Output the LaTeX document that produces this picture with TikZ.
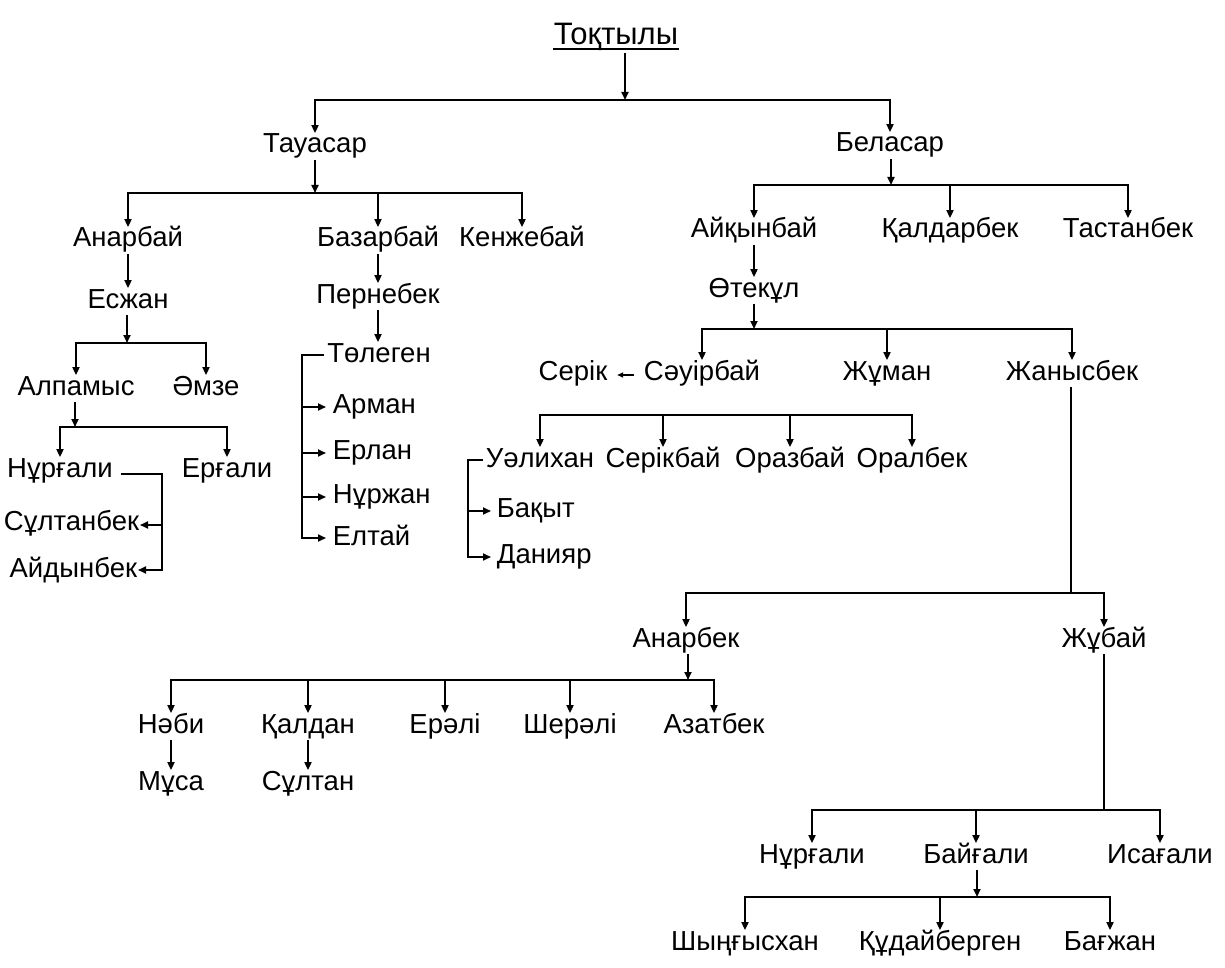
\documentclass[tikz,border=0pt]{standalone}
\usepackage{fontspec}
\setmainfont{Liberation Sans}
\usetikzlibrary{arrows.meta}

\tikzset{
    person/.style={inner sep=0pt, text height=19pt, text depth=6pt,
        anchor=base, font=\fontsize{27.5}{30}\selectfont},
    arr/.style={-{Triangle[length=8pt,width=7pt]}},
    arrs/.style={{Triangle[length=8pt,width=7pt]}-{Triangle[length=8pt,width=7pt]}}
}

\begin{document}
\begin{tikzpicture}[x=1pt, y=-1pt, line width=1.8pt]
        \useasboundingbox (0,0) rectangle (1225,968);

        \node[person, font=\fontsize{31}{34}\selectfont,
            text height=22pt, text depth=7pt]
        (tok) at (616,45) {Тоқтылы};
        \draw[line width=1.5pt] ([yshift=-4pt]tok.base west) -- ([yshift=-4pt]tok.base east);

        \node[person] (tau) at (315,153) {Тауасар};
        \node[person] (bel) at (890,152) {Беласар};

        \coordinate (tokB) at (625,100);
        \draw[arr] (tok.south -| tokB) -- (tokB);
        \draw[arrs] (tau.north) -- (tau |- tokB) -- (bel |- tokB) -- (bel.north);

        \node[person] (anarbai) at (128,247) {Анарбай};
        \node[person] (bazar) at (378,247) {Базарбай};
        \node[person] (kenzh) at (522,247) {Кенжебай};

        \coordinate (tauB) at (315,193);
        \draw[arr] (tau.south) -- (tau |- tauB);
        \draw[arrs] (anarbai.north) -- (anarbai |- tauB) -- (kenzh |- tauB) -- (kenzh.north);
        \draw[arr] (bazar |- tauB) -- (bazar.north);

        \node[person] (aikyn) at (754,238) {Айқынбай};
        \node[person] (kaldar) at (950,238) {Қалдарбек};
        \node[person] (tastan) at (1128,238) {Тастанбек};

        \coordinate (belB) at (891,185);
        \draw[arr] (bel.south -| belB) -- (belB);
        \draw[arrs] (aikyn.north) -- (aikyn |- belB) -- (tastan |- belB) -- (tastan.north);
        \draw[arr] (kaldar |- belB) -- (kaldar.north);

        \node[person] (eszhan) at (128,308) {Есжан};
        \node[person] (perne) at (378,303) {Пернебек};
        \node[person] (otek) at (754,297) {Өтекұл};
        \draw[arr] (anarbai.south) -- (eszhan.north);
        \draw[arr] (bazar.south) -- (perne.north);
        \draw[arr] (aikyn.south) -- (otek.north);

        % Есжан
        \node[person] (alpa) at (76,395) {Алпамыс};
        \node[person] (amze) at (206,395) {Әмзе};
        \coordinate (eszB) at (127,343);
        \draw[arr] (eszhan.south -| eszB) -- (eszB);
        \draw[arrs] (alpa.north) -- (alpa |- eszB) -- (amze |- eszB) -- (amze.north);

        \node[person] (nurg) at (60,477) {Нұрғали};
        \node[person] (erg) at (227,477) {Ерғали};
        \coordinate (alpB) at (75,427);
        \draw[arr] (alpa.south -| alpB) -- (alpB);
        \draw[arrs] (nurg.north) -- (nurg |- alpB) -- (erg |- alpB) -- (erg.north);

        \node[person, anchor=base east] (sult) at (140,530) {Сұлтанбек};
        \node[person, anchor=base east] (aidyn) at (138,577) {Айдынбек};
        \draw[arr] ([xshift=7pt,yshift=3pt]nurg.base east)
            -| ([xshift=24pt,yshift=7pt]aidyn.base east)
            -- ([yshift=7pt]aidyn.base east);
        \draw[arr] ([xshift=22pt,yshift=5pt]sult.base east) -- ([yshift=5pt]sult.base east);

        % Пернебек
        \node[person] (tole) at (379,362) {Төлеген};
        \draw[arr] (perne.south) -- (tole.north -| perne);
        \node[person, anchor=base west] (arman) at (332,413) {Арман};
        \node[person, anchor=base west] (erlan) at (332,459) {Ерлан};
        \node[person, anchor=base west] (nurzh) at (332,503) {Нұржан};
        \node[person, anchor=base west] (eltai) at (332,545) {Елтай};
        \draw[arr] ([xshift=-2pt,yshift=7pt]tole.base west)
            -| ([xshift=-30pt,yshift=7pt]eltai.base west)
            -- ([xshift=-6pt,yshift=7pt]eltai.base west);
        \foreach \c in {arman,erlan,nurzh}
            \draw[arr] ([xshift=-30pt,yshift=6pt]\c.base west) -- ([xshift=-6pt,yshift=6pt]\c.base west);

        % Өтекұл
        \node[person] (sauir) at (702,380) {Сәуірбай};
        \node[person] (zhuman) at (887,380) {Жұман};
        \node[person] (zhanys) at (1072,380) {Жанысбек};
        \node[person] (serik) at (573,380) {Серік};
        \coordinate (otekB) at (754,329);
        \draw[arr] (otek.south -| otekB) -- (otekB);
        \draw[arrs] (sauir.north) -- (sauir |- otekB) -- (zhanys |- otekB) -- (zhanys.north);
        \draw[arr] (zhuman |- otekB) -- (zhuman.north);
        \draw[-{Triangle[length=6pt,width=5pt]}, line width=1.4pt]
            ([xshift=-9pt,yshift=5pt]sauir.base west) -- ([xshift=9pt,yshift=5pt]serik.base east);

        % Сәуірбай
        \node[person] (uali) at (540,467) {Уәлихан};
        \node[person] (serikb) at (663,467) {Серікбай};
        \node[person] (oraz) at (790,467) {Оразбай};
        \node[person] (oral) at (912,467) {Оралбек};
        \coordinate (sauB) at (702,415);
        \draw[arrs] (uali.north) -- (uali |- sauB) -- (oral |- sauB) -- (oral.north);
        \foreach \c in {serikb,oraz}
            \draw[arr] (\c |- sauB) -- (\c.north);

        \node[person, anchor=base west] (bakyt) at (496,517) {Бақыт};
        \node[person, anchor=base west] (daniyar) at (496,563) {Данияр};
        \draw[arr] ([xshift=-2pt,yshift=7pt]uali.base west)
            -| ([xshift=-28pt,yshift=6pt]daniyar.base west)
            -- ([xshift=-5pt,yshift=6pt]daniyar.base west);
        \draw[arr] ([xshift=-28pt,yshift=6pt]bakyt.base west) -- ([xshift=-5pt,yshift=6pt]bakyt.base west);

        % Жанысбек
        \node[person] (anarbek) at (686,647) {Анарбек};
        \node[person] (zhubai) at (1104,647) {Жұбай};
        \coordinate (zhB) at (1071,593);
        \draw (zhanys.south -| zhB) -- (zhB);
        \draw[arrs] (anarbek.north) -- (anarbek |- zhB) -- (zhubai |- zhB) -- (zhubai.north);

        % Анарбек
        \node[person] (nabi) at (171,733) {Нәби};
        \node[person] (kaldan) at (308,733) {Қалдан};
        \node[person] (erali) at (445,733) {Ерәлі};
        \node[person] (sherali) at (570,733) {Шерәлі};
        \node[person] (azat) at (714,733) {Азатбек};
        \coordinate (anB) at (688,680);
        \draw[arr] (anarbek.south -| anB) -- (anB);
        \draw[arrs] (nabi.north) -- (nabi |- anB) -- (azat |- anB) -- (azat.north);
        \foreach \c in {kaldan,erali,sherali}
            \draw[arr] (\c |- anB) -- (\c.north);

        \node[person] (musa) at (171,790) {Мұса};
        \node[person] (sultan) at (308,790) {Сұлтан};
        \draw[arr] (nabi.south) -- (musa.north);
        \draw[arr] (kaldan.south) -- (sultan.north);

        % Жұбай
        \node[person] (nurg2) at (812,863) {Нұрғали};
        \node[person] (baig) at (976,863) {Байғали};
        \node[person] (isag) at (1160,863) {Исағали};
        \coordinate (zbB) at (1104,810);
        \draw (zhubai.south) -- (zbB);
        \draw[arrs] (nurg2.north) -- (nurg2 |- zbB) -- (isag |- zbB) -- (isag.north);
        \draw[arr] (baig |- zbB) -- (baig.north);

        % Байғали
        \node[person] (shyng) at (745,950) {Шыңғысхан};
        \node[person] (kudai) at (940,950) {Құдайберген};
        \node[person] (bagzh) at (1110,950) {Бағжан};
        \coordinate (bgB) at (977,897);
        \draw[arr] (baig.south -| bgB) -- (bgB);
        \draw[arrs] (shyng.north) -- (shyng |- bgB) -- (bagzh |- bgB) -- (bagzh.north);
        \draw[arr] (kudai |- bgB) -- (kudai.north);
\end{tikzpicture}
\end{document}
